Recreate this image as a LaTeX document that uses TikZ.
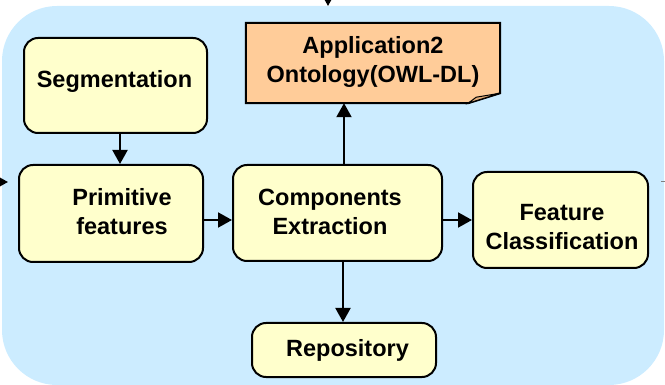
\documentclass[tikz,border=0pt]{standalone}
\usepackage{fontspec}
\setmainfont{Liberation Sans}
\usetikzlibrary{arrows.meta}
\definecolor{bgblue}{RGB}{204,236,255}
\definecolor{boxyellow}{RGB}{255,255,204}
\definecolor{peach}{RGB}{255,204,153}
\definecolor{peachdark}{RGB}{226,172,120}
\tikzset{
  stagebox/.style={draw=black, line width=2pt, fill=boxyellow, rounded corners=14pt, inner sep=0pt},
  lbl/.style={align=center, inner sep=0pt, font=\fontsize{23.5}{29}\selectfont\bfseries},
  arr/.style={line width=2pt, -{Triangle[length=14pt,width=15pt]}},
}
\begin{document}
\begin{tikzpicture}[x=1pt,y=-1pt]
\useasboundingbox (0,0) rectangle (665,385);
\fill[bgblue, rounded corners=55pt] (2,6) rectangle (664,385);

% boxes
\node[stagebox, minimum width=183pt, minimum height=95pt] (seg) at (115.5,85.5) {};
\node[stagebox, minimum width=184pt, minimum height=97pt] (prim) at (111,213.5) {};
\node[stagebox, minimum width=209pt, minimum height=96pt] (comp) at (337.5,213) {};
\node[stagebox, minimum width=175pt, minimum height=96pt] (feat) at (560.5,220) {};
\node[stagebox, minimum width=184pt, minimum height=54pt] (repo) at (344,350) {};
\node[inner sep=0pt, minimum width=254pt, minimum height=80pt] (app) at (373,63) {};
\filldraw[fill=peach, draw=black, line width=2pt, line join=miter]
  (app.north west) -- (app.north east) -- ([yshift=10pt]app.south east)
  -- ([xshift=-32pt]app.south east) -- (app.south west) -- cycle;
\filldraw[fill=peachdark, draw=black, line width=1pt]
  ([xshift=-32pt]app.south east) -- ([xshift=-24pt,yshift=6pt]app.south east)
  -- ([yshift=10pt]app.south east) -- cycle;

% labels
\node[lbl] (seg-t) at (114.5,81) {Segmentation};
\node[lbl] (prim-t) at (122,211.5) {Primitive\\features};
\node[lbl] (comp-t) at (330,211.5) {Components\\Extraction};
\node[lbl] (feat-t) at (562,227) {Feature\\Classification};
\node[lbl] (repo-t) at (347.5,350) {Repository};
\node[lbl] (app-t) at (373,62) {Application2\\Ontology(OWL-DL)};

% connectors
\draw[arr] ([xshift=4.5pt]seg.south) -- ([xshift=4.5pt]seg.south |- prim.north);
\draw[arr] ([yshift=-6.5pt]prim.east) -- ([yshift=-6.5pt]prim.east -| comp.west);
\draw[arr] ([yshift=-7pt]comp.east) -- ([yshift=-7pt]comp.east -| feat.west);
\draw[arr] ([xshift=6.5pt]comp.north) -- ([xshift=6.5pt]comp.north |- app.south);
\draw[arr] ([xshift=5.5pt]comp.south) -- ([xshift=5.5pt]comp.south |- repo.north);

% external connectors
\coordinate (topin) at (328,-12);
\coordinate (topend) at (328,6);
\draw[arr] (topin) -- (topend);
\coordinate (leftin) at (-12,182);
\coordinate (leftend) at (8,182);
\draw[arr] (leftin) -- (leftend);
\coordinate (rightout) at (661,182);
\coordinate (rightend) at (668,182);
\draw[line width=1pt, gray] (rightout) -- (rightend);
\end{tikzpicture}
\end{document}
